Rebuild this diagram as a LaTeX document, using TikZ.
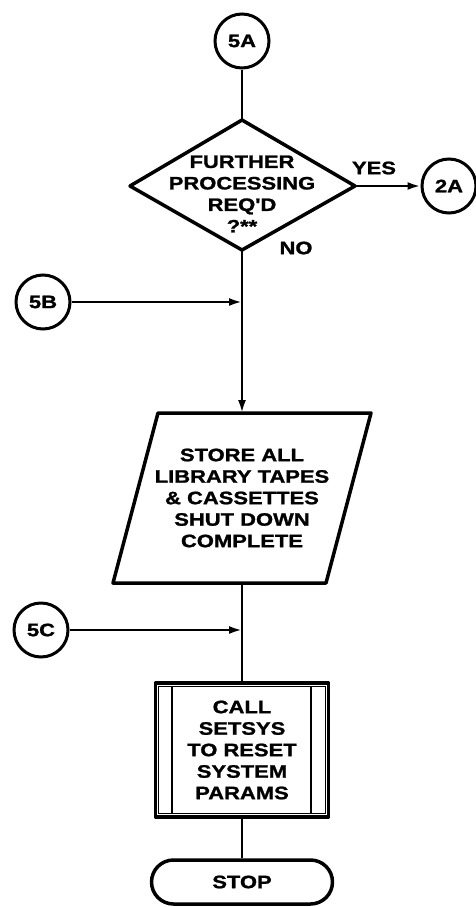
\documentclass[tikz,border=0pt]{standalone}
\usepackage{fontspec}
\newfontfamily\flowfont{Liberation Sans}[FakeStretch=1.22, BoldFeatures={FakeStretch=1.22, FakeBold=1.3}]
\usetikzlibrary{arrows.meta,shapes.misc}
\begin{document}
\begin{tikzpicture}[x=1pt,y=-1pt,
  txt/.style={font=\flowfont\bfseries\fontsize{18}{21.5}\selectfont, align=center, inner sep=0pt},
  conn/.style={draw, circle, line width=3pt, minimum size=54pt, txt},
  shp/.style={line width=3.5pt, line join=round},
  flow/.style={line width=2.4pt},
  arr/.style={flow, -{Latex[length=13pt,width=8pt]}}]
\useasboundingbox (0,0) rectangle (475,907);
% connectors (circles)
\node[conn] (c5a) at (242,41) {5A};
\node[conn] (c2a) at (449,186) {2A};
\node[conn] (c5b) at (43,302) {5B};
\node[conn] (c5c) at (41,630) {5C};
% decision
\coordinate (dt) at (242,120);
\coordinate (dr) at (355,186);
\coordinate (db) at (242,250);
\coordinate (dl) at (130,186);
\draw[shp] (dt) -- (dr) -- (db) -- (dl) -- cycle;
\node[txt] (dtext) at (242,194) {FURTHER\\PROCESSING\\REQ'D\\?**};
\node[txt] (yes) at (374,168) {YES};
\node[txt] (no) at (296,248) {NO};
% parallelogram
\coordinate (ptl) at (158,413);
\coordinate (ptr) at (371,413);
\coordinate (pbr) at (326,583);
\coordinate (pbl) at (113,583);
\coordinate (pt) at (242,413);
\coordinate (pb) at (242,583);
\draw[shp] (ptl) -- (ptr) -- (pbr) -- (pbl) -- cycle;
\node[txt] (ptext) at (242,498) {STORE ALL\\LIBRARY TAPES\\\& CASSETTES\\SHUT DOWN\\COMPLETE};
% predefined process
\node[draw, shp, minimum width=173pt, minimum height=134pt, txt] (box) at (242,750)
  {CALL\\SETSYS\\TO RESET\\SYSTEM\\PARAMS};
\draw[line width=1.1pt] ([shift={(5,5)}]box.north west) rectangle ([shift={(-5,-5)}]box.south east);
\draw[line width=2.2pt] ([shift={(18,5)}]box.north west) -- ([shift={(18,-5)}]box.south west);
\draw[line width=2.2pt] ([shift={(-19,5)}]box.north east) -- ([shift={(-19,-5)}]box.south east);
% terminal
\node[draw, shp, rounded rectangle, minimum width=181pt, minimum height=44pt, txt] (stop) at (242,882) {STOP};
% junctions
\coordinate (j1) at (242,302);
\coordinate (j2) at (242,630);
% flow lines
\draw[flow] (c5a) -- (dt);
\draw[arr] (dr) -- (c2a.west);
\draw[arr] (db) -- (pt);
\draw[arr] (c5b.east) -- (j1);
\draw[flow] (pb) -- (box.north);
\draw[arr] (c5c.east) -- (j2);
\draw[flow] (box.south) -- (stop.north);
\end{tikzpicture}
\end{document}
